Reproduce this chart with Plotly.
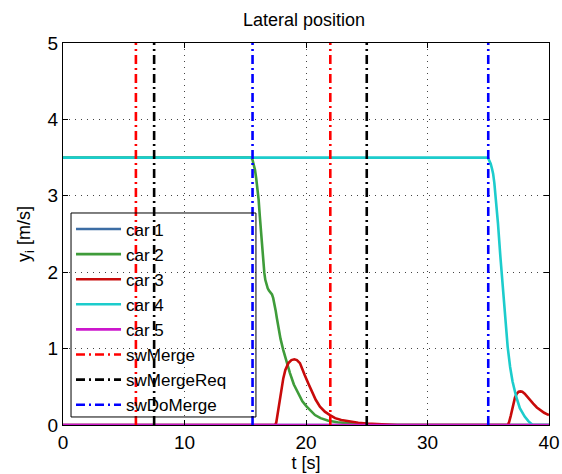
import plotly.graph_objects as go

# --- lateral position traces (time in s, position in m) ---
t_car1 = [0, 40]
y_car1 = [0, 0]

t_car2 = [0, 15.5, 15.6, 15.7, 15.8, 15.9, 16.02, 16.1, 16.2, 16.3, 16.4, 16.5, 16.57, 16.65,
          16.76, 16.85, 16.95, 17.05, 17.12, 17.2, 17.3, 17.4, 17.5, 17.6, 17.72, 17.9, 18.13,
          18.4, 18.68, 19.0, 19.37, 19.7, 20.06, 20.4, 20.74, 21.2, 21.84, 22.6, 23.5, 24.5, 26, 40]
y_car2 = [3.5, 3.5, 3.47, 3.42, 3.34, 3.23, 3.08, 2.95, 2.73, 2.51, 2.29, 2.1, 1.99, 1.9,
          1.83, 1.79, 1.76, 1.745, 1.73, 1.71, 1.66, 1.59, 1.5, 1.4, 1.29, 1.13, 0.98,
          0.82, 0.68, 0.53, 0.41, 0.31, 0.24, 0.18, 0.13, 0.09, 0.056, 0.035, 0.02, 0.01, 0.003, 0]

t_car3 = [0, 17.45, 17.55, 17.65, 17.75, 17.86, 18.0, 18.13, 18.3, 18.55, 18.8, 19.04, 19.25,
          19.5, 19.7, 19.9, 20.2, 20.47, 20.8, 21.15, 21.55, 21.97, 22.4, 22.9, 23.6, 24.3,
          25.0, 25.7, 27.5,
          36.6, 36.7, 36.85, 37.0, 37.2, 37.35, 37.5, 37.65, 37.8, 38.0, 38.2, 38.45, 38.7,
          39.0, 39.3, 39.6, 39.86, 40]
y_car3 = [0, 0, 0.03, 0.12, 0.22, 0.33, 0.48, 0.61, 0.72, 0.81, 0.85, 0.86, 0.85,
          0.81, 0.74, 0.65, 0.54, 0.44, 0.33, 0.24, 0.175, 0.13, 0.09, 0.065, 0.045, 0.03,
          0.02, 0.013, 0,
          0, 0.03, 0.12, 0.24, 0.36, 0.41, 0.435, 0.44, 0.435, 0.41, 0.37, 0.32, 0.28,
          0.23, 0.19, 0.16, 0.14, 0.13]

t_car4 = [0, 34.9, 35.0, 35.1, 35.2, 35.3, 35.4, 35.5, 35.6, 35.8, 36.0, 36.1, 36.25, 36.4,
          36.6, 36.8, 37.0, 37.3, 37.6, 38.0, 38.3, 38.65, 40]
y_car4 = [3.5, 3.5, 3.49, 3.46, 3.42, 3.36, 3.29, 3.17, 3.0, 2.64, 2.2, 1.99, 1.66, 1.33,
          1.02, 0.76, 0.57, 0.37, 0.22, 0.11, 0.05, 0.0, 0]

t_car5 = [0, 40]
y_car5 = [0, 0]

# --- switching instants (s) ---
sw_merge = [6, 22]
sw_merge_req = [7.5, 25]
sw_do_merge = [15.6, 35]

cars = [
    ("car 1", t_car1, y_car1, "#3c6da4"),
    ("car 2", t_car2, y_car2, "#3f9c3a"),
    ("car 3", t_car3, y_car3, "#c80a0a"),
    ("car 4", t_car4, y_car4, "#1ccccc"),
    ("car 5", t_car5, y_car5, "#cc17cc"),
]

switches = [
    ("swMerge", sw_merge, "#ff0000"),
    ("swMergeReq", sw_merge_req, "#000000"),
    ("swDoMerge", sw_do_merge, "#0000ff"),
]

Y_MIN, Y_MAX = 0, 5
FONT = "Liberation Sans, Arial, sans-serif"

fig = go.Figure()

for name, t, y, color in cars:
    fig.add_trace(go.Scatter(
        x=t, y=y, mode="lines", name=name,
        line=dict(color=color, width=2.6),
    ))

for name, times, color in switches:
    xs, ys = [], []
    for tt in times:
        xs += [tt, tt, None]
        ys += [Y_MIN, Y_MAX, None]
    fig.add_trace(go.Scatter(
        x=xs, y=ys, mode="lines", name=name,
        line=dict(color=color, width=2.6, dash="9px,4px,2px,4px"),
    ))

axis_common = dict(
    showline=True, linecolor="black", linewidth=1, mirror="allticks",
    ticks="inside", ticklen=5, tickcolor="black",
    showgrid=True, gridcolor="#444444", gridwidth=1, griddash="1px,5px",
    zeroline=False, automargin=False,
    tickfont=dict(family=FONT, size=19, color="black"),
)

# transparent legend with a frame drawn around it
LEGEND_BOX = dict(x0=0.0165, x1=0.397, y0=0.021, y1=0.555)

fig.add_shape(type="rect", xref="paper", yref="paper", **LEGEND_BOX,
              line=dict(color="black", width=1), fillcolor="rgba(0,0,0,0)", layer="above")

fig.update_layout(
    width=562, height=474,
    margin=dict(l=63, r=13, t=43, b=49),
    paper_bgcolor="white", plot_bgcolor="white",
    font=dict(family=FONT, color="black"),
    title=dict(text="Lateral position", x=0.541, xanchor="center", y=0.958, yanchor="middle",
               font=dict(size=18, color="black")),
    xaxis=dict(range=[0, 40], tickvals=[0, 10, 20, 30, 40],
               title=dict(text="t [s]", font=dict(size=18), standoff=0), **axis_common),
    yaxis=dict(range=[Y_MIN, Y_MAX], tickvals=[0, 1, 2, 3, 4, 5],
               title=dict(text="y<sub>i</sub> [m/s]", font=dict(size=18), standoff=12), **axis_common),
    legend=dict(
        x=LEGEND_BOX["x0"], y=LEGEND_BOX["y1"] + 0.004, xanchor="left", yanchor="top",
        bgcolor="rgba(0,0,0,0)", borderwidth=0,
        font=dict(size=17, color="black"), tracegroupgap=0, itemwidth=45,
    ),
    showlegend=True,
)

fig.write_html("out.html")
